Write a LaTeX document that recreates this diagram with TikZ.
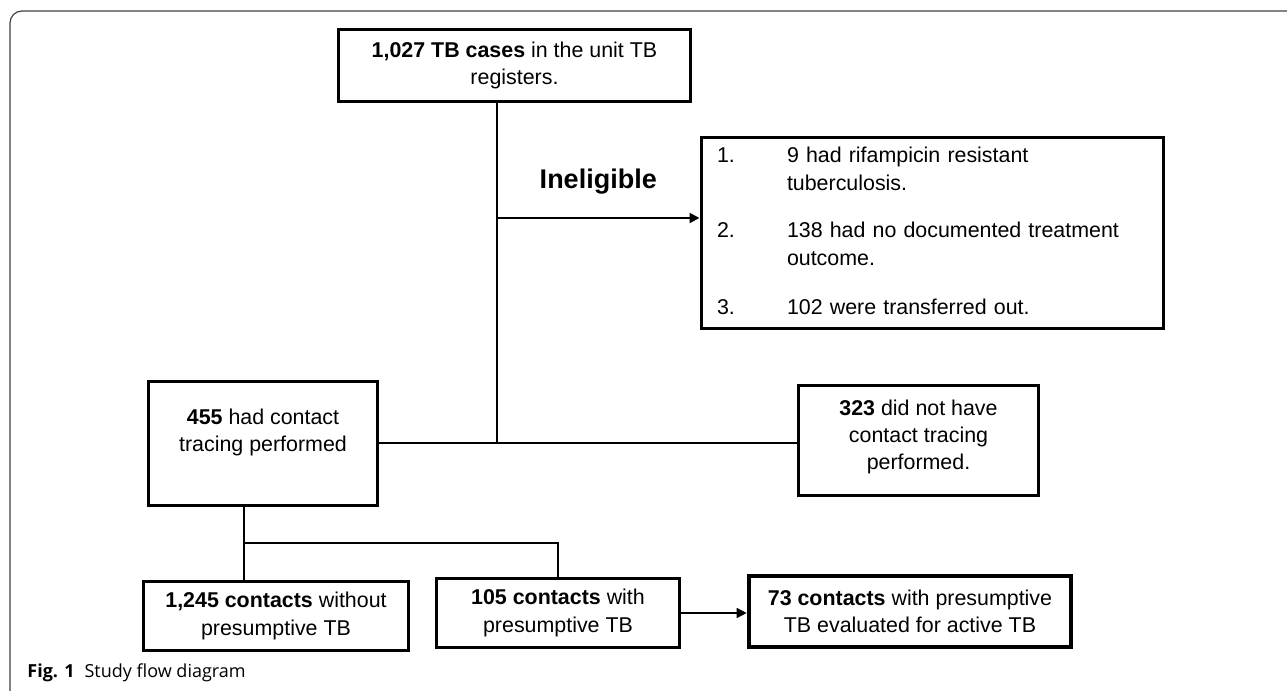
\documentclass[tikz,border=0pt]{standalone}
\usepackage{fontspec}
\setmainfont{Liberation Sans}
\newfontfamily\capfont{Open Sans}
\usepackage{array}
\usetikzlibrary{arrows.meta}
\begin{document}
\begin{tikzpicture}[x=0.5pt,y=-0.5pt,
    every node/.style={font=\fontsize{10.7}{13.6}\selectfont},
    box/.style={draw,line width=1.5pt,align=center,inner sep=0pt},
    thinline/.style={line width=0.6pt},
    flowarrow/.style={-{Triangle[length=5pt,width=5pt]}}]
  \useasboundingbox (0,0) rectangle (1287,691);
  % page frame
  \draw[black!75,line width=0.6pt,rounded corners=6pt] (10,691) -- (10,11) -- (1287,11);
  % boxes
  \node[box,minimum width=176pt,minimum height=36pt] (top) at (514.5,65.5)
    {\textbf{1,027 TB cases} in the unit TB\\registers.};
  \node[box,minimum width=231pt,minimum height=95.5pt,align=left,text width=215pt] (inel) at (932,233)
    {\fontsize{10.7}{14}\selectfont
     \begin{tabular}{@{}p{35pt}@{}l@{}}
      1. & 9 had rifampicin resistant\\
         & tuberculosis.\\[9.5pt]
      2. & 138 had no documented treatment\\
         & outcome.\\[10.5pt]
      3. & 102 were transferred out.
     \end{tabular}};
  \node[box,minimum width=114.5pt,minimum height=62pt,text depth=13pt] (c455) at (263,443.5)
    {\textbf{455} had contact\\tracing performed};
  \node[box,minimum width=120pt,minimum height=55pt,text depth=6pt] (c323) at (918.5,440.5)
    {\textbf{323} did not have\\contact tracing\\performed.};
  \node[box,minimum width=132.5pt,minimum height=34.5pt] (c1245) at (276,616)
    {\textbf{1,245 contacts} without\\presumptive TB};
  \node[box,minimum width=121.5pt,minimum height=34.5pt] (c105) at (558,613)
    {\textbf{105 contacts} with\\presumptive TB};
  \node[box,line width=2.3pt,minimum width=161pt,minimum height=35.5pt] (c73) at (910,611.5)
    {\textbf{73 contacts} with presumptive\\TB evaluated for active TB};
  % connectors
  \coordinate (j1) at (497,443);
  \coordinate (a1) at (497,218);
  \coordinate (j2) at (244,543);
  \draw[thinline] (top.south -| j1) -- (j1);
  \draw[line width=1pt] (c455.east |- j1) -- (c323.west |- j1);
  \draw[flowarrow,line width=1.1pt] (a1) -- (a1 -| inel.west)
    node[midway,above=8pt,font=\fontsize{13.5}{16}\selectfont\bfseries] (inlbl) {Ineligible};
  \draw[thinline] (c455.south -| j2) -- (c1245.north -| j2);
  \draw[thinline] (j2) -| (c105.north);
  \draw[flowarrow,line width=0.7pt] (c105.east) -- (c105.east -| c73.west);
  % caption
  \node[anchor=west,inner sep=0pt,font=\capfont\fontsize{9}{11}\selectfont] (cap) at (27,673)
    {\textbf{Fig. 1}\hspace{5pt}Study flow diagram};
\end{tikzpicture}
\end{document}
